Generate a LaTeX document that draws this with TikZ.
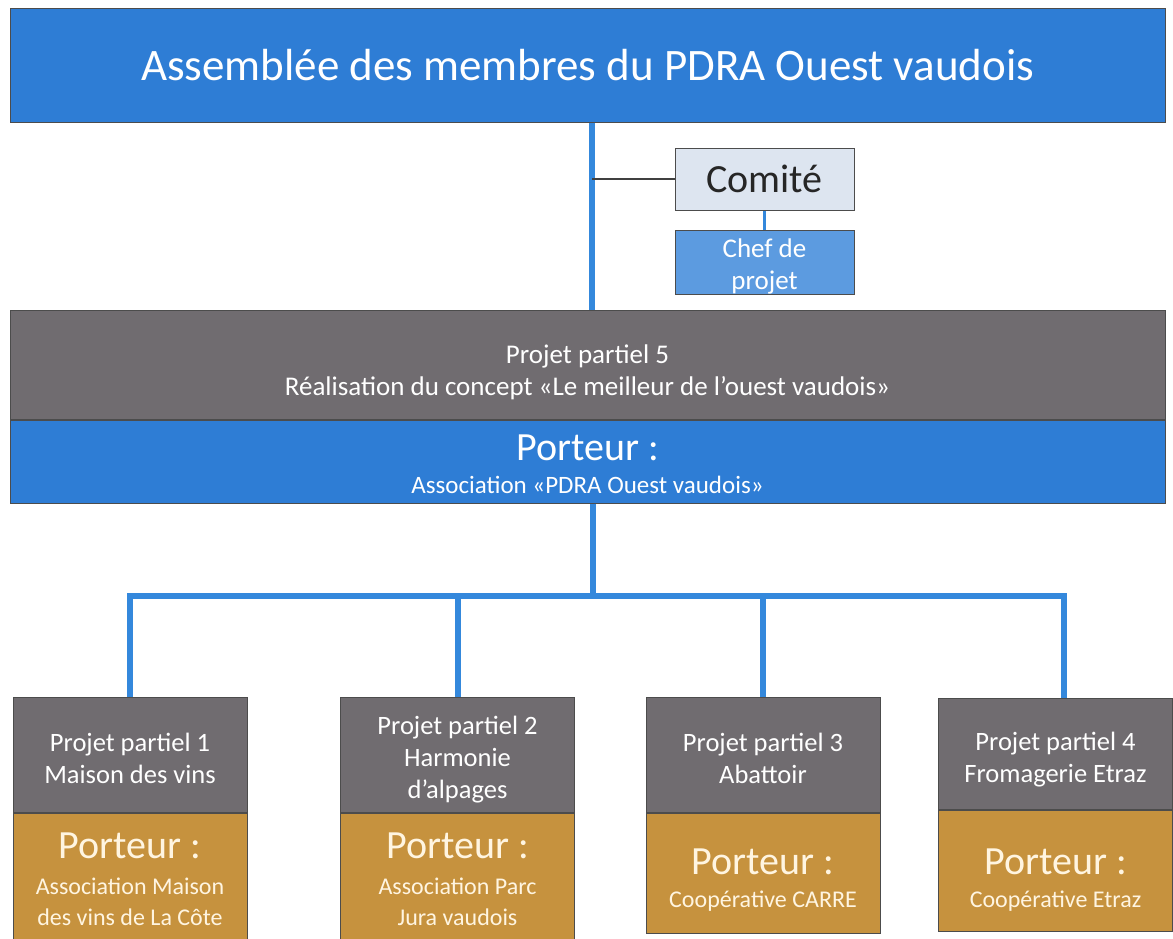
\documentclass[tikz,border=0pt]{standalone}
\usepackage{fontspec}
\setmainfont{Carlito}
\usetikzlibrary{positioning}

\definecolor{pdrablue}{RGB}{46,125,213}
\definecolor{linkblue}{RGB}{52,136,220}
\definecolor{pdragray}{RGB}{112,108,112}
\definecolor{porteurgold}{RGB}{198,146,62}
\definecolor{comitefill}{RGB}{221,229,240}
\definecolor{chefblue}{RGB}{92,155,224}
\definecolor{cream}{RGB}{255,245,225}

\newcommand{\fsz}[2]{\fontsize{#1}{#2}\selectfont}
\newcommand{\topstrut}[1]{\rule{0pt}{#1}}
\newcommand{\porteur}{\fsz{40}{44}Porteur :}

\begin{document}
\begin{tikzpicture}[
    x=1pt, y=-1pt,
    % Define styles for consistency
    box/.style={draw=black!70, line width=1pt, inner sep=0pt, align=center, text=white},
    widebox/.style={box, minimum width=1155pt},
    sidebox/.style={box, minimum width=179pt},
    projbox/.style={box, fill=pdragray, minimum width=234pt, minimum height=115pt, font=\fsz{26.5}{32}},
    portbox/.style={box, fill=porteurgold, minimum width=234pt, text=cream, font=\fsz{24}{31}},
    trunk/.style={linkblue, line width=6pt},
    thinlink/.style={black!75, line width=2pt},
    bluelink/.style={linkblue, line width=2.5pt}
]
    \useasboundingbox (0,0) rectangle (1173,938);

    % ---------------------------------------------------------
    % 1. Assembly and committee
    % ---------------------------------------------------------
    \node[widebox, fill=pdrablue, minimum height=114pt, font=\fsz{45}{50}] (assemblee) at (587.5,65)
        {Assemblée des membres du PDRA Ouest vaudois};

    \node[sidebox, fill=comitefill, minimum height=62pt, text=black!85, font=\fsz{40}{44}] (comite) at (764.5,179) {Comité};
    \node[sidebox, fill=chefblue, minimum height=61pt, font=\fsz{27}{32}] (chef) at (764.5,262.5) {\topstrut{27pt}Chef de\\projet};

    % ---------------------------------------------------------
    % 2. Projet partiel 5
    % ---------------------------------------------------------
    \node[widebox, fill=pdragray, minimum height=109pt, font=\fsz{27}{32}] (pp5) at (587.5,364.5)
        {\topstrut{34pt}Projet partiel 5\\Réalisation du concept «Le meilleur de l’ouest vaudois»};
    \node[widebox, fill=pdrablue, minimum height=83pt, font=\fsz{25}{30}, below=0pt of pp5] (port5)
        {\topstrut{32pt}\porteur\\[3pt]Association «PDRA Ouest vaudois»};

    % Links of the upper part
    \coordinate (trunktop) at ([xshift=4.5pt]assemblee.south);
    \draw[trunk] (trunktop) -- (trunktop |- pp5.north);
    \draw[thinlink] (comite.west) -- (comite.west -| trunktop);
    \draw[bluelink] (comite.south) -- (chef.north);

    % ---------------------------------------------------------
    % 3. Projets partiels 1 to 4
    % ---------------------------------------------------------
    \node[projbox] (pp1) at (130,754.5) {\topstrut{27pt}Projet partiel 1\\Maison des vins};
    \node[projbox] (pp2) at (457.5,755) {\topstrut{27pt}Projet partiel 2\\Harmonie\\d’alpages};
    \node[projbox] (pp3) at (763,754.5) {\topstrut{27pt}Projet partiel 3\\Abattoir};
    \node[projbox, minimum height=111pt] (pp4) at (1055.5,753.5) {\topstrut{30pt}Projet partiel 4\\Fromagerie Etraz};

    \node[portbox, minimum height=132pt, below=0pt of pp1] (port1)
        {\porteur\\[5pt]Association Maison\\des vins de La Côte};
    \node[portbox, minimum height=132pt, below=0pt of pp2] (port2)
        {\porteur\\[5pt]Association Parc\\Jura vaudois};
    \node[portbox, minimum height=120pt, below=0pt of pp3] (port3)
        {\topstrut{40pt}\porteur\\[2pt]Coopérative CARRE};
    \node[portbox, minimum height=121pt, below=0pt of pp4] (port4)
        {\topstrut{45pt}\porteur\\[2pt]Coopérative Etraz};

    % Links of the lower part
    \coordinate (bar) at (593,596);
    \coordinate (drop4) at ([xshift=8.5pt]pp4.north);
    \draw[trunk] (port5.south -| bar) -- (bar);
    \draw[trunk] (pp1.north) |- (bar) -| (drop4);
    \foreach \n in {pp2, pp3}
        \draw[trunk] (\n.north) -- (\n.north |- bar);
\end{tikzpicture}
\end{document}
